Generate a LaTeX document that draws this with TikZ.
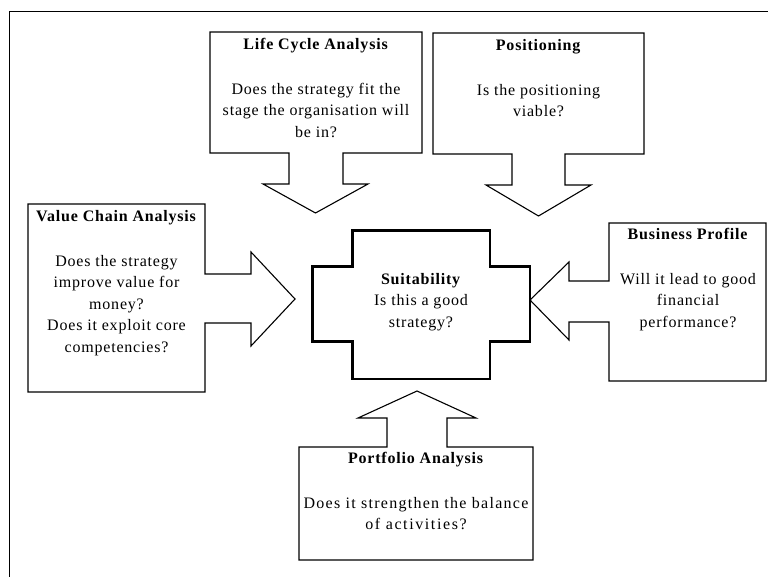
\documentclass[tikz,border=0pt]{standalone}
\usepackage{fontspec}
\setmainfont{Liberation Serif}[LetterSpace=5]

\begin{document}
\begin{tikzpicture}[x=1pt, y=-1pt,
    callout/.style = {draw, line width=1.1pt, line join=miter},
    centre/.style = {draw, line width=2.6pt, line join=miter},
    txt/.style = {align=center, inner sep=0pt, anchor=north, font=\fontsize{16}{21.5}\selectfont}]
  \useasboundingbox (0,0) rectangle (768,577);
  \draw[line width=0.9pt] (768,11) -- (9,11) -- (9,577);

  \draw[callout] (210,32) -- (422,32) -- (422,153) -- (343,153) -- (343,184) -- (368,184)
    -- (315.5,213) -- (263,184) -- (289,184) -- (289,153) -- (210,153) -- cycle;
  \node[txt] (lca) at (316,38) {\textbf{Life Cycle Analysis}\\[23.5pt]Does the strategy fit the\\stage the organisation will\\be in?};

  \draw[callout] (433,33) -- (644,33) -- (644,154) -- (565,154) -- (565,185) -- (591,185)
    -- (538.5,216) -- (486,185) -- (512,185) -- (512,154) -- (433,154) -- cycle;
  \node[txt] (pos) at (538.5,39) {\textbf{Positioning}\\[23.5pt]Is the positioning\\viable?};

  \draw[callout] (28,204) -- (205,204) -- (205,274) -- (251,274) -- (251,252) -- (295,299)
    -- (251,346) -- (251,323) -- (205,323) -- (205,392) -- (28,392) -- cycle;
  \node[txt] (vca) at (116.5,210) {\textbf{Value Chain Analysis}\\[23.5pt]Does the strategy\\improve value for\\money?\\Does it exploit core\\competencies?};

  \draw[callout] (766,223) -- (609,223) -- (609,281) -- (569,281) -- (569,262) -- (530,300)
    -- (569,340) -- (569,322) -- (609,322) -- (609,381) -- (766,381) -- cycle;
  \node[txt] (bus) at (688,228) {\textbf{Business Profile}\\[23.5pt]Will it lead to good\\financial\\performance?};

  \draw[callout] (299,447) -- (387,447) -- (387,418) -- (358,418) -- (417,391) -- (476,418)
    -- (447,418) -- (447,447) -- (533,447) -- (533,560) -- (299,560) -- cycle;
  \node[txt] (port) at (416,452) {\textbf{Portfolio Analysis}\\[23.5pt]\addfontfeature{LetterSpace=8}Does it strengthen the balance\\\addfontfeature{LetterSpace=10}of activities?};

  \draw[centre] (352.5,230.5) -- (490,230.5) -- (490,266.5) -- (530,266.5) -- (530,341.5)
    -- (490,341.5) -- (490,379) -- (352.5,379) -- (352.5,341.5) -- (312.5,341.5)
    -- (312.5,266.5) -- (352.5,266.5) -- cycle;
  \node[txt] (suit) at (421,273) {\textbf{Suitability}\\Is this a good\\strategy?};
\end{tikzpicture}
\end{document}
